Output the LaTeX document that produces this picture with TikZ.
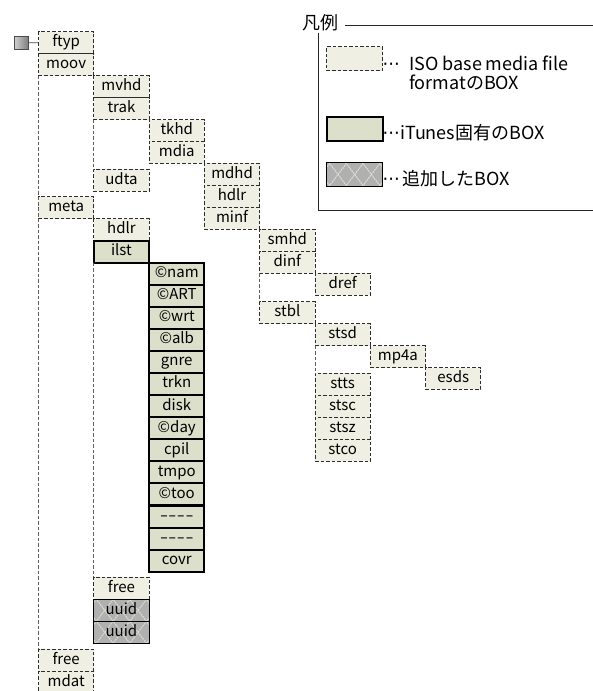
\documentclass[tikz,border=0pt]{standalone}
\usepackage{fontspec}
\setmainfont{Noto Sans CJK JP}
\newfontfamily\dv{DejaVu Sans}
\usetikzlibrary{calc}
\definecolor{isofill}{RGB}{239,239,227}
\definecolor{itfill}{RGB}{220,224,203}
\definecolor{addfill}{RGB}{176,176,176}
\definecolor{hatchcol}{RGB}{222,222,212}
\definecolor{dline}{RGB}{45,45,45}
\definecolor{cline}{RGB}{95,95,95}
\tikzset{
  box/.style={draw=dline, line width=0.9pt, dash pattern=on 3.5pt off 2pt,
    fill=isofill, minimum width=55.3pt, minimum height=21.95pt, inner sep=0pt,
    outer sep=0pt, anchor=north west, text height=10.8pt, text depth=3pt,
    font=\fontsize{15}{17}\selectfont},
  itbox/.style={box, solid, draw=black, line width=2pt, fill=itfill, minimum height=22.07pt},
  addbox/.style={box, solid, draw=black, line width=1pt, fill=addfill,
    path picture={
      \foreach \k in {-4,...,4} {
        \draw[hatchline] ([xshift=\k*16.7pt]path picture bounding box.center)
          ++(-16.7pt,-22pt) -- ++(33.4pt,44pt);
        \draw[hatchline] ([xshift=\k*16.7pt]path picture bounding box.center)
          ++(-16.7pt,22pt) -- ++(33.4pt,-44pt);
      }
    }},
  hatchline/.style={draw=hatchcol, line width=1.1pt, dash pattern=on 1.6pt off 0.9pt},
  conn/.style={draw=cline, line width=0.9pt, dash pattern=on 3.5pt off 2pt},
  legline/.style={draw=black!85, line width=1pt},
  legtext/.style={anchor=base west, inner sep=0pt, font=\fontsize{18}{20}\selectfont},
  legbox/.style={minimum width=56pt, minimum height=24pt, anchor=north west},
  iconbox/.style={draw=black!70, line width=0.8pt, minimum width=14pt, minimum height=13pt,
    inner sep=0pt, left color=black!18, right color=black!50},
}
\begin{document}
\begin{tikzpicture}[x=1pt, y=-1pt]
\useasboundingbox (0,0) rectangle (593,691);
\clip (0,0) rectangle (593,691);
\fill[white] (0,0) rectangle (593,691);

% legend
\node[font=\fontsize{18}{20}\selectfont, inner sep=0pt] (legtitle) at (320,22.5) {凡例};
\coordinate (ltr) at (593,25);
\coordinate (lbr) at (593,210);
\coordinate (ltl) at (318.3,33);
\coordinate (lbl) at (318.3,210);
\draw[legline] ([xshift=7pt]legtitle.east |- ltr) -- (ltr);
\draw[legline] (ltl) -- (lbl) -- (lbr);
\node[box, legbox] (lg1) at (326.7,46.7) {};
\node[itbox, legbox] (lg2) at (326.7,116.7) {};
\node[addbox, legbox] (lg3) at (326.7,162.5) {};
\node[legtext] (ld1) at (382.5,70) {\dv{···}};
\node[legtext] (lt1) at (409,70) {ISO base media file};
\node[legtext] (lt1b) at (409,89) {formatのBOX};
\node[legtext] (ld2) at (382.5,139) {\dv{···}};
\node[legtext] (lt2) at (400,139) {iTunes固有のBOX};
\node[legtext] (ld3) at (382.5,185) {\dv{···}};
\node[legtext] (lt3) at (402,185) {追加したBOX};

% tree
\node[box] (ftyp) at (38.5,31.7) {ftyp};
\node[box] (moov) at (38.5,53.65) {moov};
\node[box] (mvhd) at (93.8,75.6) {mvhd};
\node[box] (trak) at (93.8,97.55) {trak};
\node[box] (tkhd) at (149.1,119.5) {tkhd};
\node[box] (mdia) at (149.1,141.45) {mdia};
\node[box] (mdhd) at (204.4,163.4) {mdhd};
\node[box] (hdlrA) at (204.4,185.35) {hdlr};
\node[box] (minf) at (204.4,207.3) {minf};
\node[box] (smhd) at (259.7,229.25) {smhd};
\node[box] (dinf) at (259.7,251.2) {dinf};
\node[box] (dref) at (315,273.15) {dref};
\node[box] (stbl) at (259.7,301.7) {stbl};
\node[box] (stsd) at (315,323.6) {stsd};
\node[box] (mp4a) at (370.3,345.6) {mp4a};
\node[box] (esds) at (425.6,367.5) {esds};
\node[box] (stts) at (315,373.4) {stts};
\node[box] (stsc) at (315,395.4) {stsc};
\node[box] (stsz) at (315,417.3) {stsz};
\node[box] (stco) at (315,439.3) {stco};
\node[box] (udta) at (93.8,169.3) {udta};
\node[box] (meta) at (38.5,196.7) {meta};
\node[box] (hdlrB) at (93.8,218.6) {hdlr};
\node[itbox] (ilst) at (93.8,240.6) {ilst};
\node[itbox] (nam) at (149.1,262.7) {©nam};
\node[itbox] (art) at (149.1,284.8) {©ART};
\node[itbox] (wrt) at (149.1,306.8) {©wrt};
\node[itbox] (alb) at (149.1,328.9) {©alb};
\node[itbox] (gnre) at (149.1,351.0) {gnre};
\node[itbox] (trkn) at (149.1,373.0) {trkn};
\node[itbox] (disk) at (149.1,395.1) {disk};
\node[itbox] (day) at (149.1,417.2) {©day};
\node[itbox] (cpil) at (149.1,439.3) {cpil};
\node[itbox] (tmpo) at (149.1,461.3) {tmpo};
\node[itbox] (too) at (149.1,483.4) {©too};
\node[itbox] (dashA) at (149.1,505.5) {\dv{–\kern1pt–\kern1pt–\kern1pt–}};
\node[itbox] (dashB) at (149.1,527.5) {\dv{–\kern1pt–\kern1pt–\kern1pt–}};
\node[itbox] (covr) at (149.1,549.6) {covr};
\node[box] (freeB) at (93.8,577.3) {free};
\node[addbox] (uuidA) at (93.8,599.3) {uuid};
\node[addbox] (uuidB) at (93.8,621.3) {uuid};
\node[box] (freeA) at (38.5,649.3) {free};
\node[box] (mdat) at (38.5,671.3) {mdat};

% connectors
\draw[conn] (moov.south west) -- (freeA.north west);
\draw[conn] (trak.south west) -- (udta.north west);
\draw[conn] (dinf.south west) -- (stbl.north west);
\draw[conn] (stsd.south west) -- (stts.north west);
\draw[conn] (ilst.south west) -- (freeB.north west);

% root icon
\node[iconbox] (icon) at (21,42.7) {};
\draw[draw=black!70, line width=0.8pt] (icon.east) -- (ftyp.west);
\end{tikzpicture}
\end{document}
